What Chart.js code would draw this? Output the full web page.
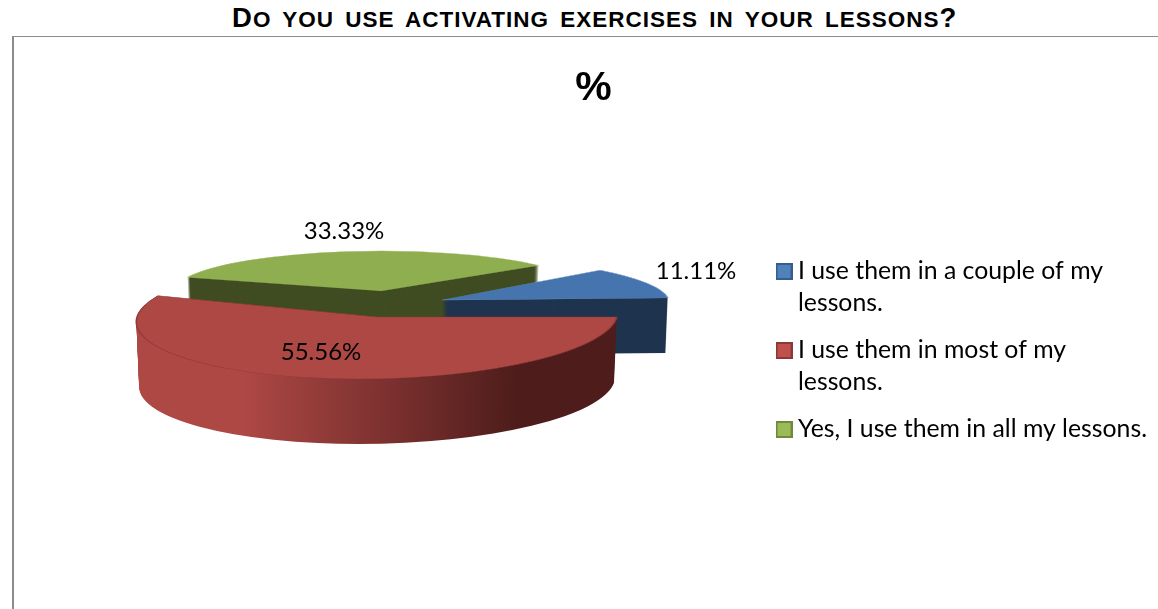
<!DOCTYPE html>
<html>
<head>
<meta charset="utf-8">
<title>Activating exercises</title>
<script src="https://cdn.jsdelivr.net/npm/chart.js@4"></script>
<style>
  html, body { margin: 0; padding: 0; background: #fff; overflow: hidden; }
  #page { position: relative; width: 1158px; height: 609px; }
  #heading {
    position: absolute; left: 232px; top: 2px; white-space: nowrap;
    font: bold 22.5px "Liberation Sans", Arial, sans-serif; letter-spacing: 1px; word-spacing: 4px; color: #000;
  }
  #heading span { font-size: 27.5px; }
  #frame { position: absolute; left: 12px; top: 36px; right: 0; bottom: 0; border-left: 2px solid #8c8c8c; border-top: 1px solid #8c8c8c; }
  #wrap { position: absolute; left: 30px; top: 0; width: 1128px; height: 609px; }
</style>
</head>
<body>
<div id="page">
  <div id="heading"><span>D</span>O YOU USE ACTIVATING EXERCISES IN YOUR LESSONS<span>?</span></div>
  <div id="frame"></div>
  <div id="wrap"><canvas id="myChart"></canvas></div>
</div>
<script>
// data
const categories = [
  ["I use them in a couple of my", "lessons."],
  ["I use them in most of my", "lessons."],
  "Yes, I use them in all my lessons."
];
const percents = [11.11, 55.56, 33.33];

// colours
const topColors = ["#4674ae", "#ae4845", "#8fae50"];
const topEdges = ["#6a94c8", "#8f3a38", "#a3c066"];
const sideColors = ["#1f344e", "#ae4845", "#404c22"];
const legendFills = ["#4f81bd", "#c0504d", "#9bbb59"];
const legendEdges = ["#385d8a", "#8c3836", "#71893f"];

// fake 3d look, page pixels. one entry per slice
const canvasLeft = 30;
const apexX = [442, 377, 381];
const apexY = [300, 317, 291];
const radiusX = [226, 240, 206];
const radiusY = [44, 62, 40];
const depth = [55, 65, 50];
const skewX = [0.53, -0.3, 0];
const skewY = [-0.009, 0, 0];
const drawOrder = [2, 0, 1];
const taper = 0.00018;

// data label positions, page pixels
const labelX = [696, 321, 344];
const labelY = [271, 352, 231];

function legendBox(fill, edge) {
  const c = document.createElement("canvas");
  c.width = 17;
  c.height = 17;
  const g = c.getContext("2d");
  g.fillStyle = fill;
  g.fillRect(0, 0, 17, 17);
  g.strokeStyle = edge;
  g.lineWidth = 2;
  g.strokeRect(1, 1, 15, 15);
  return c;
}

const pie3d = {
  id: "pie3d",
  beforeDatasetsDraw(chart) {
    const ctx = chart.ctx;
    const arcs = chart.getDatasetMeta(0).data;

    drawOrder.forEach(function(i) {
      const arc = arcs[i];
      const opts = arc.options;
      const r = arc.outerRadius;

      function place(dy) {
        ctx.setTransform(1, 0, 0, 1, 0, 0);
        ctx.translate(apexX[i] - canvasLeft, apexY[i] + dy);
        ctx.transform(1, skewY[i], skewX[i], 1, 0, 0);
        ctx.scale(radiusX[i] * (1 - dy * taper) / r, radiusY[i] / r);
        ctx.translate(-arc.x, -arc.y);
      }

      // side walls: stacked copies of the slice going up
      let side = sideColors[i];
      if (i === 1) {
        side = ctx.createLinearGradient(arc.x - r, 0, arc.x + r, 0);
        side.addColorStop(0, "#ae4845");
        side.addColorStop(0.25, "#ae4845");
        side.addColorStop(0.6, "#752e2c");
        side.addColorStop(0.82, "#4e1d1b");
        side.addColorStop(1, "#4e1d1b");
      }
      ctx.save();
      arc.options = Object.assign({}, opts, {backgroundColor: side, borderWidth: 0});
      for (let d = depth[i]; d > 0; d--) {
        place(d);
        arc.draw(ctx);
      }
      place(0);
      arc.options = Object.assign({}, opts, {backgroundColor: topColors[i], borderColor: topEdges[i], borderWidth: 1.5});
      arc.draw(ctx);
      arc.options = opts;
      ctx.restore();
    });

    // data labels
    ctx.save();
    ctx.font = '24px Lato, sans-serif';
    ctx.fillStyle = "#000";
    ctx.textAlign = "center";
    ctx.textBaseline = "middle";
    percents.forEach(function(v, i) {
      ctx.fillText(v.toFixed(2) + "%", labelX[i] - canvasLeft, labelY[i]);
    });
    ctx.restore();
    return false;
  }
};

const myChart = document.getElementById("myChart").getContext("2d");

const chart = new Chart(myChart, {
  type: "pie",
  data: {
    labels: categories,
    datasets: [{
      data: percents,
      backgroundColor: topColors,
      borderWidth: 0
    }]
  },
  options: {
    responsive: true,
    maintainAspectRatio: false,
    animation: false,
    rotation: 50,
    layout: { padding: { top: 64, bottom: -28, right: 1 } },
    plugins: {
      tooltip: { enabled: false },
      title: {
        display: true,
        text: "%",
        color: "#000",
        font: { family: "Liberation Sans", size: 41, weight: "bold" },
        padding: { top: 0, bottom: 28 }
      },
      legend: {
        position: "right",
        labels: {
          color: "#000",
          font: { family: "Lato", size: 24.8, lineHeight: 32 / 24.8 },
          usePointStyle: true,
          pointStyleWidth: 3,
          boxHeight: 16,
          padding: 15,
          generateLabels: function() {
            return categories.map(function(text, i) {
              return {
                text: text,
                index: i,
                fontColor: "#000",
                pointStyle: legendBox(legendFills[i], legendEdges[i])
              };
            });
          }
        }
      }
    }
  },
  plugins: [pie3d]
});
</script>
</body>
</html>
